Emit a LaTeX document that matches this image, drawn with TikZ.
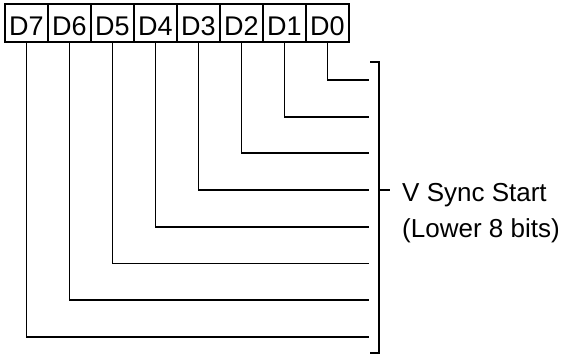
\documentclass[tikz,border=0pt]{standalone}
\usepackage{fontspec}
\setmainfont{Liberation Sans}
\begin{document}
\begin{tikzpicture}[x=1pt,y=-1pt,
  wire/.style={line width=1.9pt, line join=miter},
  bitbox/.style={draw, line width=1.8pt, minimum width=43pt, minimum height=38pt,
    inner sep=0pt, text height=24pt, text depth=0pt,
    font=\fontsize{27}{32}\selectfont},
  lbl/.style={anchor=base west, inner sep=0pt, font=\fontsize{26}{32}\selectfont}]
\useasboundingbox (0,0) rectangle (564,356);
% bit boxes
\foreach \k in {7,...,0} {
  \node[bitbox] (b\k) at ({26.5+43*(7-\k)},23) {D\k};
}
% wire ends
\foreach \k in {0,...,7} {
  \coordinate (e\k) at (369,{80+36.7*\k});
  \draw[wire] (b\k.south) |- (e\k);
}
% bracket
\coordinate (bt) at (370,62);
\coordinate (bb) at (370,353);
\coordinate (bm) at (379,190);
\coordinate (bx) at (390,190);
\draw[wire] (bt) -- (379,62) -- (379,353) -- (bb);
\draw[wire] (bm) -- (bx);
\node[lbl] (t1) at (402,201) {V Sync Start};
\node[lbl] (t2) at (402,237) {(Lower 8 bits)};
\end{tikzpicture}
\end{document}
